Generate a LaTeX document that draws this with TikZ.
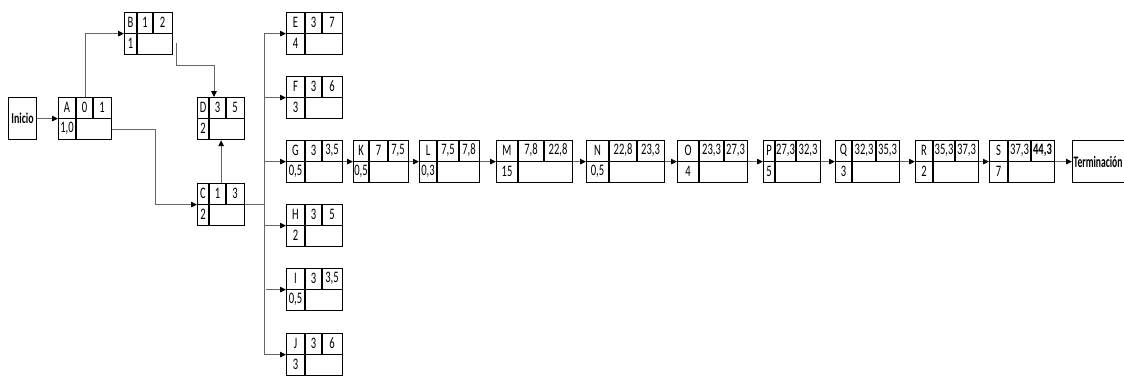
\documentclass[tikz,border=0pt]{standalone}
\usepackage{fontspec}
\setmainfont{Carlito}[FakeStretch=0.66]
\usetikzlibrary{arrows.meta,calc}
\tikzset{
  caja/.style={draw, line width=1.2pt, inner sep=0pt, minimum height=42, anchor=north west},
  linea/.style={draw=black!60, line width=0.9pt},
  flecha/.style={linea, -{Triangle[length=6pt,width=5.5pt,color=black]}},
}
\begin{document}
\begin{tikzpicture}[x=1pt, y=-1pt, font=\fontsize{16}{18}\selectfont]
  \useasboundingbox (0,0) rectangle (1124,376);

  \node[caja, minimum width=28, font=\fontsize{15}{17}\selectfont\bfseries] (inicio) at (8,97) {Inicio};
  \node[caja, minimum width=58, text width=56, align=left, inner xsep=0.5pt,
    font=\fontsize{16}{18}\selectfont\bfseries\addfontfeature{FakeStretch=0.6}] (fin) at (1072,140) {Terminación};

  % actividades: nombre/x/y/anchos de columna/inicio/fin/duracion
  \foreach \n/\x/\y/\wa/\wb/\wc/\es/\ef/\dur in {
    A/58/97/18/17/18/0/1/{1,0},
    B/124/12/13/16/19/1/2/1,
    D/197/97/12/17/18/3/5/2,
    C/197/183/12/17/18/1/3/2,
    E/286/12/19/17/20/3/7/4,
    F/286/76/19/17/20/3/6/3,
    G/286/140/19/17/20/3/{3,5}/{0,5},
    H/286/204/19/17/20/3/5/2,
    I/286/268/19/17/20/3/{3,5}/{0,5},
    J/286/333/19/17/20/3/6/3,
    K/353/140/16/19/20/7/{7,5}/{0,5},
    L/419/140/18/22/20/{7,5}/{7,8}/{0,3},
    M/496/140/22/26/28/{7,8}/{22,8}/15,
    N/586/140/23/28/27/{22,8}/{23,3}/{0,5},
    O/677/140/22/25/23/{23,3}/{27,3}/4,
    P/763/140/12/21/24/{27,3}/{32,3}/5,
    Q/835/140/17/24/23/{32,3}/{35,3}/3,
    R/915/140/18/22/23/{35,3}/{37,3}/2,
    S/989/140/19/23/23/{37,3}/{\textbf{44,3}}/7}{
    \node[caja, minimum width=\wa+\wb+\wc] (\n) at (\x,\y) {};
    \draw[line width=1.2pt] (\n.west) -- (\n.east)
      (\x+\wa,\y) -- (\x+\wa,\y+42)
      (\x+\wa+\wb,\y) -- (\x+\wa+\wb,\y+21);
    \node (\n-l) at (\x+\wa/2,\y+10.5) {\n};
    \node (\n-es) at (\x+\wa+\wb/2,\y+10.5) {\es};
    \node (\n-ef) at (\x+\wa+\wb+\wc/2,\y+10.5) {\ef};
    \node (\n-d) at (\x+\wa/2,\y+31.5) {\dur};
  }

  \draw[flecha] (inicio.east) -- (A.west);
  \draw[flecha] (A.north) |- (B.west);
  \draw[flecha] ($(A.east)!.5!(A.south east)$) -- ++(43,0) |- (C.west);
  \draw[flecha] ([shift={(3,9)}]B.east) -- ++(0,23) -| ([xshift=17]D.north west);
  \draw[flecha] (C.north) -- (D.south);

  % ramas desde C
  \coordinate (bus) at ($(C.east)+(19,0)$);
  \draw[linea] (C.east) -- (bus) (bus |- E.west) -- (bus |- J.west);
  \foreach \t in {E,F,G,H,J}
    \draw[flecha] (bus |- \t.west) -- (\t.west);
  \draw[flecha] ([xshift=-20]I.west) -- (I.west);

  \foreach \a/\b in {G/K,K/L,L/M,M/N,N/O,O/P,P/Q,Q/R,R/S,S/fin}
    \draw[flecha] (\a.east) -- (\b.west);
\end{tikzpicture}
\end{document}
